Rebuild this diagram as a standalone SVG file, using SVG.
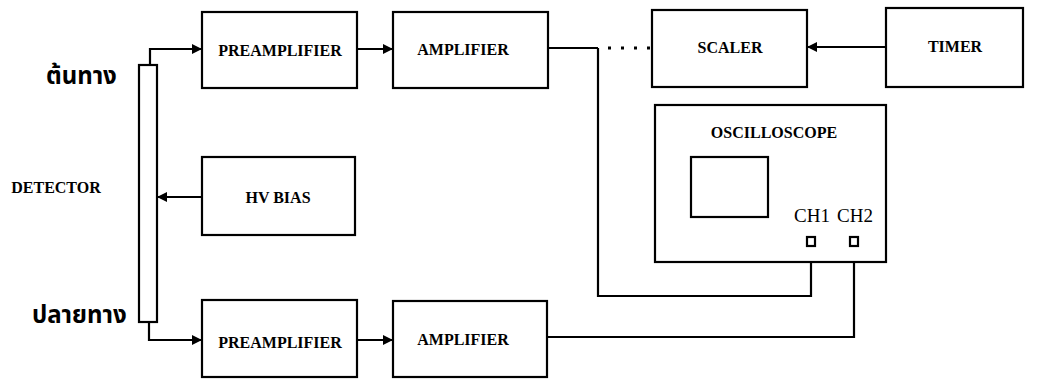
<svg xmlns="http://www.w3.org/2000/svg" width="1040" height="379" viewBox="0 0 1040 379">
<style>
.box{fill:#fff;stroke:#000;stroke-width:2.2}
.ln{fill:none;stroke:#000;stroke-width:2.2}
.lbl{font-family:"Liberation Serif",serif;font-weight:bold;font-size:16px;fill:#000;text-anchor:middle}
.ch{font-family:"Liberation Serif",serif;font-size:19px;fill:#000;text-anchor:middle}
.th{font-family:"Noto Sans Thai","Noto Sans","DejaVu Sans",sans-serif;font-weight:bold;font-size:24px;fill:#000}
</style>
<defs>
<marker id="arr" viewBox="0 0 10 10" refX="10" refY="5" markerWidth="10" markerHeight="10" markerUnits="userSpaceOnUse" orient="auto">
<path d="M0,0 L10,5 L0,10 z" fill="#000"/>
</marker>
</defs>
<rect width="1040" height="379" fill="#fff"/>
<g id="connectors">
<path class="ln" d="M150,65 V49 H202" marker-end="url(#arr)"/>
<path class="ln" d="M357,49 H393" marker-end="url(#arr)"/>
<path class="ln" d="M548,48 H598"/>
<path d="M608,48 H650" fill="none" stroke="#000" stroke-width="3" stroke-dasharray="3 10"/>
<path class="ln" d="M598,48 V296 H811 V247"/>
<path class="ln" d="M886,47 H807" marker-end="url(#arr)"/>
<path class="ln" d="M202,197 H157" marker-end="url(#arr)"/>
<path class="ln" d="M149,322 V340 H202" marker-end="url(#arr)"/>
<path class="ln" d="M357,340 H393" marker-end="url(#arr)"/>
<path class="ln" d="M547,337 H854 V247"/>
</g>
<g id="detector">
<rect class="box" x="139" y="65" width="18" height="257"/>
<text class="lbl" x="56" y="193">DETECTOR</text>
<text class="th" x="46" y="84">ต้นทาง</text>
<text class="th" x="32" y="323">ปลายทาง</text>
</g>
<g id="preamp-top">
<rect class="box" x="202" y="12" width="155" height="76"/>
<text class="lbl" x="280" y="56">PREAMPLIFIER</text>
</g>
<g id="amp-top">
<rect class="box" x="393" y="12" width="155" height="76"/>
<text class="lbl" x="463" y="55">AMPLIFIER</text>
</g>
<g id="scaler">
<rect class="box" x="652" y="10" width="155" height="77"/>
<text class="lbl" x="730" y="53">SCALER</text>
</g>
<g id="timer">
<rect class="box" x="886" y="8" width="137" height="79"/>
<text class="lbl" x="955" y="52">TIMER</text>
</g>
<g id="hvbias">
<rect class="box" x="202" y="157" width="153" height="78"/>
<text class="lbl" x="278" y="203">HV BIAS</text>
</g>
<g id="oscilloscope">
<rect class="box" x="655" y="105" width="231" height="157"/>
<text class="lbl" x="774" y="138">OSCILLOSCOPE</text>
<rect class="box" x="691" y="157" width="77" height="60"/>
<text class="ch" x="812" y="222">CH1</text>
<text class="ch" x="855" y="222">CH2</text>
<rect class="box" x="807" y="237" width="8" height="9"/>
<rect class="box" x="850" y="237" width="8" height="9"/>
</g>
<g id="preamp-bottom">
<rect class="box" x="202" y="300" width="155" height="77"/>
<text class="lbl" x="280" y="348">PREAMPLIFIER</text>
</g>
<g id="amp-bottom">
<rect class="box" x="393" y="301" width="154" height="76"/>
<text class="lbl" x="463" y="345">AMPLIFIER</text>
</g>
</svg>
